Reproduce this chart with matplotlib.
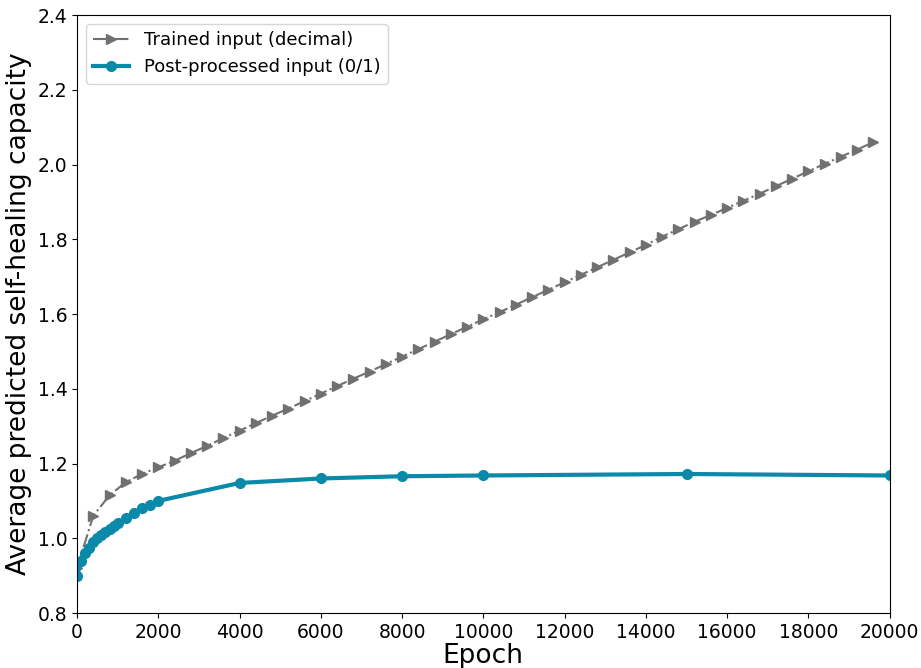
import matplotlib
matplotlib.use("Agg")
import matplotlib.pyplot as plt

plt.rcParams["font.family"] = ["DejaVu Sans Condensed", "Liberation Sans Narrow", "DejaVu Sans"]

# Trained input (decimal): sampled every 400 epochs
trained_epochs = list(range(0, 20000, 400))
trained_vals = [
    0.92, 1.060, 1.115, 1.150, 1.172, 1.190, 1.207, 1.228, 1.247, 1.268,
    1.288, 1.308, 1.328, 1.347, 1.367, 1.387, 1.407, 1.427, 1.446, 1.466,
    1.486, 1.506, 1.526, 1.546, 1.566, 1.586, 1.605, 1.625, 1.645, 1.665,
    1.685, 1.705, 1.725, 1.745, 1.765, 1.785, 1.807, 1.827, 1.847, 1.865,
    1.884, 1.903, 1.922, 1.942, 1.962, 1.982, 2.002, 2.021, 2.040, 2.060,
]

# Post-processed input (0/1)
post_epochs = [0, 100, 200, 300, 400, 500, 600, 700, 800, 900, 1000,
               1200, 1400, 1600, 1800, 2000, 4000, 6000, 8000, 10000,
               15000, 20000]
post_vals = [0.900, 0.938, 0.960, 0.975, 0.990, 1.000, 1.010, 1.018,
             1.025, 1.033, 1.040, 1.055, 1.068, 1.080, 1.090, 1.100,
             1.148, 1.160, 1.166, 1.168, 1.172, 1.168]

GRAY = "#707070"
TEAL = "#0a8aa8"

fig = plt.figure(figsize=(9.21, 6.68), dpi=100)
ax = fig.add_axes([0.0836, 0.0823, 0.8824, 0.8952])

ax.plot(trained_epochs, trained_vals, ls="-.", lw=1.5, color=GRAY,
        marker=">", markersize=6.5, label="Trained input (decimal)")
ax.plot(post_epochs, post_vals, ls="-", lw=3, color=TEAL,
        marker="o", markersize=7, label="Post-processed input (0/1)")

ax.set_xlim(0, 20000)
ax.set_ylim(0.8, 2.4)
ax.set_xticks(range(0, 20001, 2000))
ax.set_yticks([0.8, 1.0, 1.2, 1.4, 1.6, 1.8, 2.0, 2.2, 2.4])
ax.tick_params(labelsize=13.5)
ax.set_xlabel("Epoch", fontsize=19, labelpad=1)
ax.set_ylabel("Average predicted self-healing capacity", fontsize=19, labelpad=4)
ax.legend(loc="upper left", fontsize=13)

plt.savefig("out.png", dpi=100)
